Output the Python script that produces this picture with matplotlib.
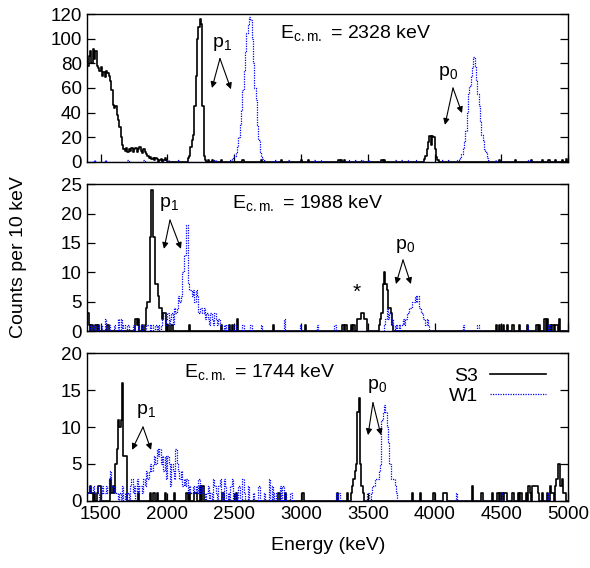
import numpy as np
import matplotlib
matplotlib.use("Agg")
import matplotlib.pyplot as plt
from matplotlib.lines import Line2D

plt.rcParams['font.family'] = ['Liberation Sans', 'DejaVu Sans']
plt.rcParams['mathtext.default'] = 'regular'

# ---------------- data (counts per 10 keV bin, bin left edge in keV) ----------------
bin_lo, bin_hi, bin_w = 1400, 5000, 10

# Top panel: Ecm = 2328 keV
top_s3_seg_starts = [1400, 2150, 3920]
top_s3_segs = [
    [78, 86, 90, 80, 92, 84, 90, 78, 76, 74, 77, 70, 73, 69, 74, 72, 70, 66, 58, 46,
     44, 45, 38, 34, 28, 20, 14, 10, 9, 11, 8, 10, 9, 11, 8, 10, 11, 8, 10, 12,
     9, 7, 10, 8, 6, 5, 3, 4, 2, 3, 1, 3, 2, 0, 1, 2, 0, 1, 3, 1],
    [3, 5, 12, 18, 22, 45, 70, 100, 110, 116, 112, 45, 5, 1],
    [2, 5, 10, 16, 21, 14, 21, 20, 10, 4, 1],
]
top_s3_bg_e = [2300, 2330, 2400, 2560, 2700, 2850, 3000, 3050, 3280, 3300, 3320, 3600,
               3620, 4480, 4600, 4720, 4800, 4850, 4900, 4950, 4980]
top_s3_bg_c = [1, 1, 1, 1, 1, 1, 1, 1, 1, 1, 1, 1, 1, 1, 1, 1, 1, 1, 1, 1, 2]

top_w1_seg_starts = [2460, 4170]
top_w1_segs = [
    [1, 1, 2, 3, 5, 8, 12, 20, 30, 42, 58, 75, 90, 105, 112, 118, 115, 100, 80, 60,
     50, 30, 18, 8, 4, 2, 1],
    [1, 2, 3, 6, 11, 16, 25, 40, 55, 62, 70, 76, 85, 78, 66, 55, 45, 32, 22, 18,
     10, 8, 3, 1],
]
top_w1_bg_e = [1450, 1530, 1700, 1820, 2000, 2080, 2350, 2800, 2900, 3100, 3150, 3350,
               3400, 3450, 3500, 3700, 3750, 3800, 3850, 4050, 4100, 4450, 4700]
top_w1_bg_c = [1] * 23

# Middle panel: Ecm = 1988 keV
mid_s3_seg_starts = [1830, 3420, 3580]
mid_s3_segs = [
    [1, 4, 5, 5, 16, 24, 16, 16, 8, 8, 6, 4, 4, 2, 3, 3, 0, 1],
    [2, 2, 2, 3, 3, 2, 2],
    [1, 2, 3, 8, 10, 8, 7, 4, 4, 3, 1],
]
mid_s3_bg_e = [1400, 1410, 1430, 1460, 1480, 1550, 1760, 1770, 1780, 1810, 2030, 2160,
               2400, 2460, 2480, 2520, 2790, 3030, 3310, 3330, 3370, 3390, 4460, 4480,
               4510, 4540, 4580, 4630, 4690, 4760, 4780, 4820, 4840, 4860, 4880, 4900,
               4910, 4930]
mid_s3_bg_c = [3, 1, 1, 1, 1, 1, 2, 1, 2, 1, 1, 1,
               1, 1, 1, 2, 1, 1, 1, 1, 1, 1, 1, 1,
               1, 1, 1, 1, 1, 1, 1, 2, 2, 1, 1, 1,
               1, 2]

mid_w1_seg_starts = [1950, 3620]
mid_w1_segs = [
    [1, 2, 3, 1, 2, 3, 1, 2, 3, 1, 4, 3, 4, 6, 5, 6, 10, 13, 13, 18,
     8, 7, 7, 6, 7, 5, 7, 6, 3, 4, 4, 3, 4, 2, 3, 2, 1, 3, 2, 1,
     3, 2, 1, 2, 1],
    [1, 2, 4, 2, 3, 1, 2, 0, 1, 0, 1, 0, 1, 1, 2, 1, 2, 3, 3, 4,
     4, 5, 5, 6, 5, 6, 4, 4, 3, 2, 2, 1, 2, 1],
]
mid_w1_bg_e = [1420, 1440, 1470, 1500, 1530, 1560, 1600, 1630, 1650, 1670, 1700, 1740,
               1780, 1800, 1840, 1850, 1860, 1880, 1910, 1930, 2420, 2440, 2500, 2560,
               2620, 2700, 2870, 2990, 3120, 3250, 4210, 4320, 4690, 4850]
mid_w1_bg_c = [1, 1, 1, 1, 2, 1, 1, 2, 2, 1, 1, 1,
               1, 1, 1, 1, 1, 1, 1, 1, 1, 1, 1, 1,
               1, 1, 2, 1, 1, 1, 1, 1, 1, 1]

# Bottom panel: Ecm = 1744 keV
bot_s3_seg_starts = [1570, 3370]
bot_s3_segs = [
    [3, 1, 2, 1, 5, 7, 11, 10, 11, 16, 6, 6, 6],
    [1, 2, 3, 4, 5, 12, 14, 5, 2, 1],
]
bot_s3_bg_e = [1400, 1410, 1420, 1430, 1450, 1470, 1480, 1490, 1780, 1870, 1890, 1900,
               1920, 1980, 2050, 2140, 2160, 2200, 2210, 2240, 2260, 2410, 2510, 2830,
               2880, 3010, 3270, 3340, 3830, 3890, 3990, 4060, 4070, 4080, 4280, 4350,
               4430, 4470, 4490, 4500, 4520, 4530, 4580, 4620, 4640, 4680, 4700, 4710,
               4730, 4740, 4750, 4760, 4770, 4800, 4840, 4860, 4870, 4880, 4900, 4910,
               4920, 4930, 4940, 4950, 4960, 4970]
bot_s3_bg_c = [1, 1, 2, 1, 1, 1, 2, 2, 1, 1, 1, 1,
               1, 1, 1, 1, 1, 1, 1, 2, 2, 1, 1, 1,
               1, 1, 1, 1, 1, 1, 1, 1, 1, 1, 2, 1,
               1, 1, 1, 1, 1, 1, 1, 1, 1, 1, 2, 1,
               2, 2, 2, 2, 1, 1, 1, 2, 1, 1, 2, 3,
               5, 5, 2, 3, 1, 1]

bot_w1_seg_starts = [1700, 3490]
bot_w1_segs = [
    [1, 0, 2, 3, 1, 2, 0, 3, 1, 2, 2, 1, 3, 2, 4, 3, 4, 5, 4, 5,
     6, 5, 7, 6, 7, 5, 6, 4, 6, 3, 6, 5, 2, 5, 4, 3, 7, 5, 4, 3,
     4, 2, 3, 2, 3, 1, 2, 1, 1, 2, 1],
    [1, 1, 0, 1, 2, 2, 3, 3, 3, 4, 5, 11, 12, 13, 12, 10, 8, 5, 3, 3,
     3, 2, 1],
]
bot_w1_bg_e = [1400, 1410, 1420, 1430, 1440, 1450, 1460, 1470, 1480, 1500, 1510, 1520,
               1530, 1540, 1550, 1560, 1570, 1580, 1590, 1600, 1610, 1620, 1640, 1660,
               1680, 2210, 2220, 2230, 2240, 2250, 2260, 2270, 2290, 2300, 2320, 2340,
               2350, 2360, 2380, 2390, 2400, 2420, 2430, 2450, 2470, 2480, 2500, 2530,
               2560, 2570, 2600, 2640, 2680, 2720, 2760, 2780, 2800, 2840, 2860, 2880,
               2920, 3260, 3280, 4160, 4500, 4840]
bot_w1_bg_c = [1, 2, 1, 1, 2, 1, 1, 2, 1, 1, 2, 1,
               1, 2, 1, 3, 4, 2, 1, 2, 1, 1, 1, 2,
               1, 2, 1, 3, 1, 2, 1, 1, 1, 2, 1, 3,
               2, 1, 2, 3, 1, 3, 2, 1, 2, 3, 1, 2,
               3, 1, 2, 1, 2, 1, 3, 2, 1, 2, 2, 1,
               1, 1, 1, 1, 1, 1]

panel_titles = ['2328', '1988', '1744']
panel_ymax = [120, 25, 20]
panel_ystep = [20, 5, 5]


def build(seg_starts, segs, bg_e, bg_c):
    edges = np.arange(bin_lo, bin_hi + bin_w, bin_w)
    counts = np.zeros(len(edges) - 1)
    for e, c in zip(bg_e, bg_c):
        counts[(e - bin_lo) // bin_w] = c
    for s, seg in zip(seg_starts, segs):
        i0 = (s - bin_lo) // bin_w
        counts[i0:i0 + len(seg)] = seg
    return edges, counts


spectra = [
    (build(top_s3_seg_starts, top_s3_segs, top_s3_bg_e, top_s3_bg_c),
     build(top_w1_seg_starts, top_w1_segs, top_w1_bg_e, top_w1_bg_c)),
    (build(mid_s3_seg_starts, mid_s3_segs, mid_s3_bg_e, mid_s3_bg_c),
     build(mid_w1_seg_starts, mid_w1_segs, mid_w1_bg_e, mid_w1_bg_c)),
    (build(bot_s3_seg_starts, bot_s3_segs, bot_s3_bg_e, bot_s3_bg_c),
     build(bot_w1_seg_starts, bot_w1_segs, bot_w1_bg_e, bot_w1_bg_c)),
]

# annotation positions (data coords): label pos, arrow start, two arrow ends
p1_annot = [((2405, 96), (2393, 84), (2333, 60), (2475, 59)),
            ((2011, 21.6), (2019, 18.9), (1974, 14.0), (2101, 14.0)),
            ((1839, 12.2), (1817, 10.0), (1735, 6.9), (1877, 6.9))]
p0_annot = [((4100, 72.5), (4137, 60), (4077, 30), (4204, 39.6)),
            ((3778, 14.5), (3763, 12.1), (3710, 8.0), (3822, 8.0)),
            ((3568, 15.6), (3538, 13.3), (3501, 8.9), (3598, 8.9))]
title_pos = [(2842, 104.8), (2483, 21.8), (2124, 17.5)]

# ---------------- figure ----------------
fig = plt.figure(figsize=(5.90, 5.68), dpi=100)
left, right = 87.3 / 590, 568.3 / 590
rows_px = [(14.3, 161.7), (184.3, 331.0), (353.3, 500.7)]
axes = []
for (t, b) in rows_px:
    ax = fig.add_axes([left, 1 - b / 568, right - left, (b - t) / 568])
    axes.append(ax)

FS = 13.5
for k, ax in enumerate(axes):
    (e3, c3), (e1, c1) = spectra[k]
    ax.step(e3, np.append(c3, c3[-1]), where='post', color='black', lw=1.2,
            label='S3', zorder=2)
    ax.step(e1, np.append(c1, c1[-1]), where='post', color='#0000ff', lw=0.9,
            ls=(0, (1, 1)), label='W1', zorder=3)
    ax.set_xlim(bin_lo, bin_hi)
    ax.set_ylim(0, panel_ymax[k])
    ax.set_yticks(np.arange(0, panel_ymax[k] + 1, panel_ystep[k]))
    ax.set_xticks(np.arange(1500, 5001, 500))
    ax.tick_params(direction='in', length=6, width=0.9, labelsize=FS,
                   left=True, right=True, bottom=True, top=False, pad=4)
    if k < 2:
        ax.tick_params(labelbottom=False)
    for sp in ax.spines.values():
        sp.set_linewidth(1.0)

    ax.text(title_pos[k][0], title_pos[k][1],
            r'E$_{c.m.}$ = ' + panel_titles[k] + ' keV',
            fontsize=14, ha='left', va='center')
    for lab, ann in (('p$_1$', p1_annot[k]), ('p$_0$', p0_annot[k])):
        (lx, ly), st, en1, en2 = ann
        ax.text(lx, ly, lab, fontsize=14, ha='center', va='center')
        for en in (en1, en2):
            ax.annotate('', xy=en, xytext=st,
                        arrowprops=dict(arrowstyle='-|>', lw=0.8, color='black',
                                        mutation_scale=9, shrinkA=0, shrinkB=0))

axes[1].text(3419, 6.6, '*', fontsize=15, ha='center', va='center')

handles = [Line2D([], [], color='black', lw=1.2),
           Line2D([], [], color='#0000ff', lw=0.9, ls=(0, (1, 1)))]
axes[2].legend(handles, ['S3', 'W1'], loc='upper right', bbox_to_anchor=(0.99, 1.025),
               frameon=False, markerfirst=False, fontsize=14, handlelength=2.9,
               handletextpad=0.6, labelspacing=0.15)

axes[2].set_xlabel('Energy (keV)', fontsize=14, labelpad=10)
fig.text(0.032, 1 - 257 / 568, 'Counts per 10 keV', rotation=90, fontsize=14,
         ha='center', va='center')

fig.savefig('out.png', dpi=100)
